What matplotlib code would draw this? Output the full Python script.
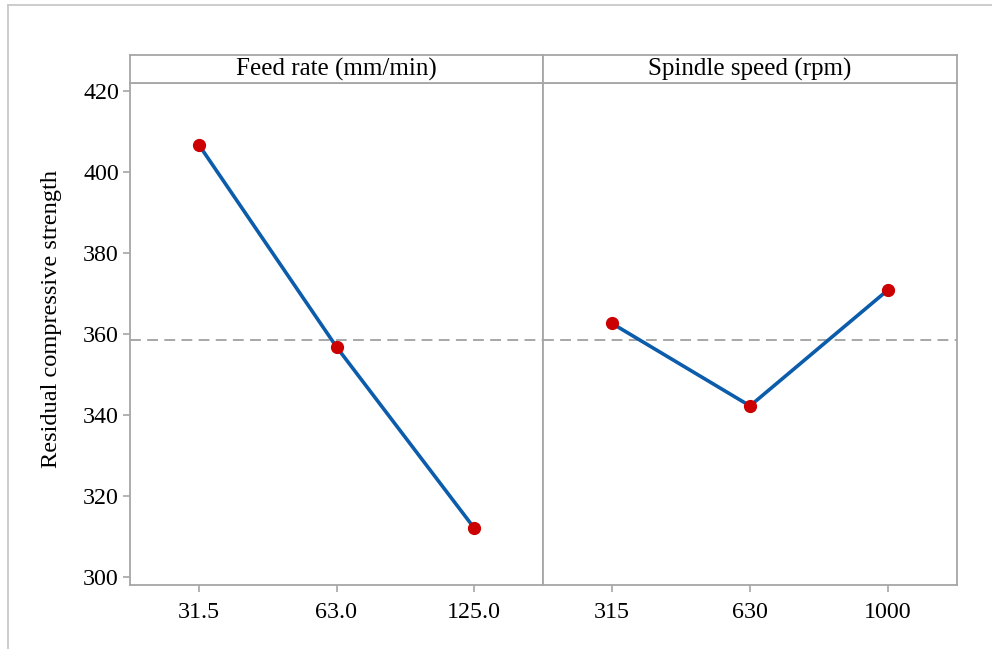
import matplotlib
matplotlib.use("Agg")
import matplotlib.pyplot as plt
from matplotlib.lines import Line2D

plt.rcParams['font.family'] = ['Liberation Serif', 'DejaVu Serif']

factors = ["Feed rate (mm/min)", "Spindle speed (rpm)"]
feed_levels = ["31.5", "63.0", "125.0"]
feed_means = [406.8, 356.8, 312.0]
spindle_levels = ["315", "630", "1000"]
spindle_means = [362.6, 342.2, 370.9]
y_ticks = [300, 320, 340, 360, 380, 400, 420]
y_label = "Residual compressive strength"

grand_mean = sum(feed_means) / len(feed_means)

W, H = 992, 649
fig = plt.figure(figsize=(W / 100, H / 100), dpi=100)

spine_col = '#A6A6A6'
line_col = '#0B5CAB'
marker_col = '#CC0000'
fs_tick = 17.3
fs_title = 18
fs_label = 17.6

def fx(px):
    return px / W

def fy(py):
    return 1 - py / H

panels = [(130, 543), (543, 957)]
plot_top, plot_bot = 83.3, 585
strip_top = 55

data = [(feed_levels, feed_means), (spindle_levels, spindle_means)]

for i, ((x0, x1), (levels, means), title) in enumerate(zip(panels, data, factors)):
    ax = fig.add_axes([fx(x0), fy(plot_bot), fx(x1 - x0), fy(plot_top) - fy(plot_bot)])
    xs = list(range(1, len(levels) + 1))
    ax.axhline(grand_mean, color='#A0A0A0', lw=1.3, ls=(0, (6, 3.5)), zorder=1)
    ax.plot(xs, means, color=line_col, lw=2.6, zorder=2)
    ax.plot(xs, means, 'o', color=marker_col, ms=8.5, zorder=3)
    ax.set_xlim(0.5, 3.5)
    ax.set_ylim(297.9, 422.0)
    ax.set_xticks(xs)
    ax.set_xticklabels(levels, fontsize=fs_tick)
    ax.set_yticks(y_ticks)
    if i == 0:
        ax.set_yticklabels([str(v) for v in y_ticks], fontsize=fs_tick)
        ax.tick_params(axis='y', length=5, width=1.2, color=spine_col, pad=3)
    else:
        ax.tick_params(axis='y', left=False, labelleft=False)
    ax.tick_params(axis='x', length=5, width=1.2, color=spine_col, pad=7)
    for s in ax.spines.values():
        s.set_color(spine_col)
        s.set_linewidth(1.3)

    sax = fig.add_axes([fx(x0), fy(plot_top), fx(x1 - x0), fy(strip_top) - fy(plot_top)])
    sax.set_xticks([])
    sax.set_yticks([])
    for s in sax.spines.values():
        s.set_color(spine_col)
        s.set_linewidth(1.3)
    sax.text(0.5, 0.5, title, ha='center', va='center', fontsize=fs_title, transform=sax.transAxes)

fig.text(fx(52), fy(319), y_label, rotation=90, ha='center', va='center', fontsize=fs_label)

# outer frame (top and left visible)
fig.add_artist(Line2D([fx(8), 1], [fy(5), fy(5)], color='#C8C8C8', lw=1.3))
fig.add_artist(Line2D([fx(8), fx(8)], [fy(5), 0], color='#C8C8C8', lw=1.3))

fig.savefig("out.png", dpi=100)
